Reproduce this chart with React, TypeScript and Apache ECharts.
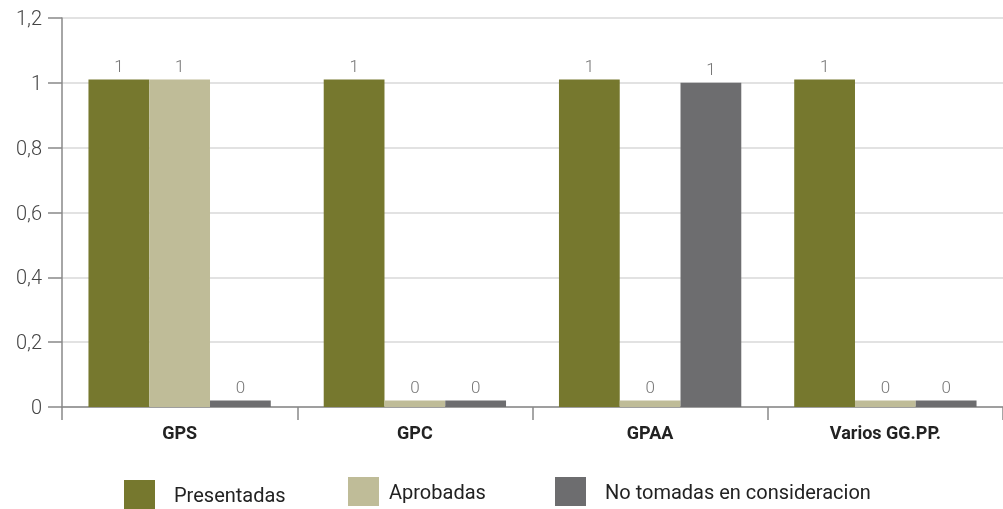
import React, { useEffect, useRef } from "react";
import * as echarts from "echarts";

const categories = ["GPS", "GPC", "GPAA", "Varios GG.PP."];
const presentadas = [1.01, 1.01, 1.01, 1.01];
const aprobadas = [1.01, 0.02, 0.02, 0.02];
const noTomadas = [0.02, 0.02, 1, 0.02];
const seriesNames = ["Presentadas", "Aprobadas", "No tomadas en consideracion"];
const colors = ["#76782E", "#BFBC98", "#6D6D6F"];

const FONT = "Roboto, 'Noto Sans', sans-serif";

export default function App() {
  const ref = useRef<HTMLDivElement>(null);
  useEffect(() => {
    if (!ref.current) return;
    const chart = echarts.init(ref.current, undefined, { renderer: "svg" });
    const label = {
      show: true,
      position: "top",
      distance: 5,
      fontSize: 17,
      fontFamily: FONT,
      fontWeight: 300,
      color: "#777",
      formatter: (p: any) => String(Math.round(p.value)),
    };
    const legendLefts = [124, 348, 555];
    const legendTops = [480, 477, 477];
    chart.setOption({
      animation: false,
      color: colors,
      grid: { left: 62, right: 0, top: 18, bottom: 102, containLabel: false },
      legend: seriesNames.map((n, i) => ({
        data: [n],
        left: legendLefts[i],
        top: legendTops[i],
        itemWidth: 31,
        itemHeight: 29,
        icon: "rect",
        padding: 0,
        textStyle: {
          fontSize: 20,
          fontFamily: FONT,
          color: "#222",
          padding: [0, 0, 0, i === 1 ? 5 : 14],
        },
      })),
      xAxis: {
        type: "category",
        data: categories,
        axisLine: { lineStyle: { color: "#888", width: 1.5 } },
        axisTick: { show: true, length: 13, lineStyle: { color: "#888", width: 1.5 } },
        axisLabel: {
          margin: 16,
          fontSize: 18,
          fontWeight: "bold",
          fontFamily: FONT,
          color: "#222",
        },
      },
      yAxis: {
        type: "value",
        min: 0,
        max: 1.2,
        interval: 0.2,
        axisLine: { show: true, lineStyle: { color: "#888", width: 1.5 } },
        axisTick: { show: true, length: 14, lineStyle: { color: "#888", width: 1.5 } },
        axisLabel: {
          margin: 20,
          fontSize: 20,
          fontWeight: 300,
          fontFamily: FONT,
          color: "#444",
          formatter: (v: number) => String(Math.round(v * 10) / 10).replace(".", ","),
        },
        splitLine: { lineStyle: { color: "#d9d9d9", width: 1.5 } },
      },
      series: [presentadas, aprobadas, noTomadas].map((d, i) => ({
        name: seriesNames[i],
        type: "bar",
        data: d,
        barGap: "0%",
        barCategoryGap: "22.5%",
        label,
        itemStyle: { color: colors[i] },
      })),
    });
    return () => chart.dispose();
  }, []);
  return (
    <div
      ref={ref}
      style={{ position: "fixed", left: 0, top: 0, width: 1003, height: 509 }}
    />
  );
}
